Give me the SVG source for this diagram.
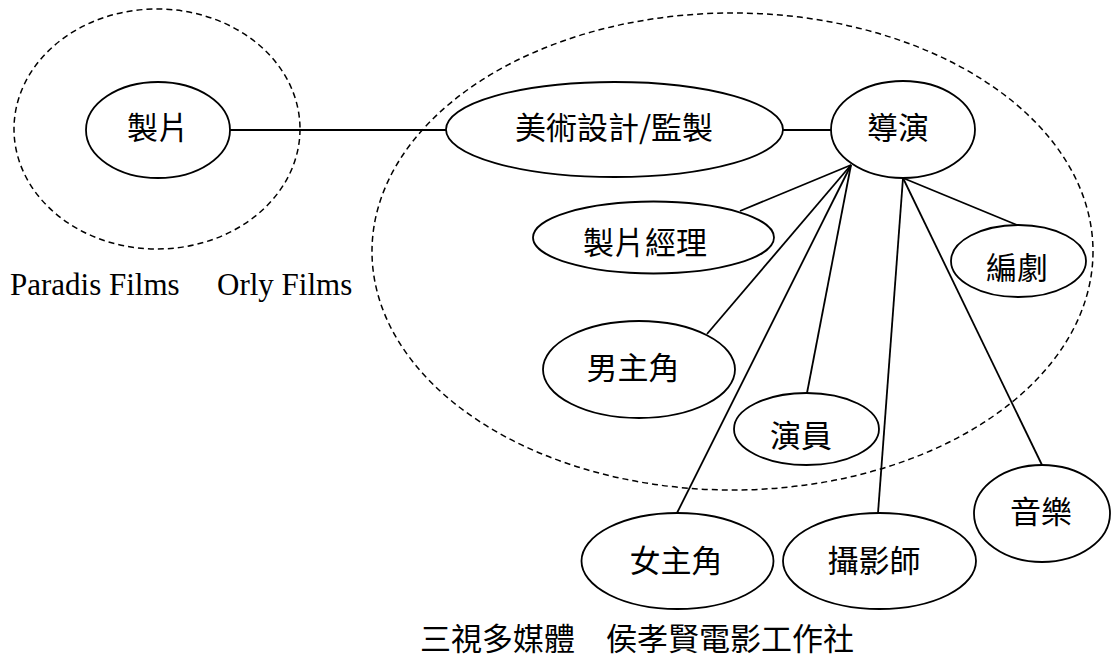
<svg xmlns="http://www.w3.org/2000/svg" width="1111" height="659" viewBox="0 0 1111 659">
<style>
.bg{fill:#fff}
.grp{fill:none;stroke:#000;stroke-width:1.5;stroke-dasharray:6 4}
.node{fill:#fff;stroke:#000;stroke-width:1.8}
.edge{stroke:#000;stroke-width:1.8;fill:none}
.lbl{font-family:"Noto Sans CJK TC","Noto Sans CJK SC",sans-serif;font-size:31px;fill:#000;text-anchor:middle}
.cap{font-family:"Liberation Serif",serif;font-size:31px;fill:#000}
.cjk{font-family:"Noto Sans CJK TC","Noto Sans CJK SC",sans-serif;font-size:31px;fill:#000}
</style>
<rect class="bg" x="0" y="0" width="1111" height="659"/>
<g id="groups">
<ellipse class="grp" cx="157" cy="129" rx="143" ry="120"/>
<ellipse class="grp" cx="732.5" cy="251.5" rx="360.5" ry="238.5"/>
</g>
<g id="connectors">
<line class="edge" x1="230" y1="130" x2="446" y2="130"/>
<line class="edge" x1="783" y1="130" x2="831" y2="130"/>
<line class="edge" x1="851" y1="165" x2="740" y2="211"/>
<line class="edge" x1="851" y1="165" x2="707" y2="334"/>
<line class="edge" x1="851" y1="165" x2="677" y2="513"/>
<line class="edge" x1="851" y1="165" x2="807" y2="393"/>
<line class="edge" x1="903" y1="178" x2="878" y2="513"/>
<line class="edge" x1="903" y1="178" x2="1017" y2="225"/>
<line class="edge" x1="903" y1="178" x2="1042" y2="465"/>
</g>
<g id="n-producer"><ellipse class="node" cx="158" cy="130" rx="72" ry="48"/><text class="lbl" x="158" y="139">製片</text></g>
<g id="n-art"><ellipse class="node" cx="614.5" cy="129.5" rx="168.5" ry="47.5"/><text class="lbl" x="614" y="139">美術設計/監製</text></g>
<g id="n-director"><ellipse class="node" cx="903" cy="129.5" rx="72" ry="48.5"/><text class="lbl" x="898" y="139">導演</text></g>
<g id="n-manager"><ellipse class="node" cx="653.5" cy="237.5" rx="120.5" ry="36"/><text class="lbl" x="645" y="254">製片經理</text></g>
<g id="n-writer"><ellipse class="node" cx="1018.5" cy="261" rx="67.5" ry="36"/><text class="lbl" x="1017" y="279">編劇</text></g>
<g id="n-actor"><ellipse class="node" cx="639" cy="369.5" rx="96" ry="48.5"/><text class="lbl" x="633" y="379">男主角</text></g>
<g id="n-cast"><ellipse class="node" cx="806.5" cy="429" rx="72.5" ry="36"/><text class="lbl" x="801" y="447">演員</text></g>
<g id="n-actress"><ellipse class="node" cx="677.5" cy="561" rx="96" ry="48"/><text class="lbl" x="676" y="572">女主角</text></g>
<g id="n-camera"><ellipse class="node" cx="879.5" cy="561" rx="96.5" ry="48"/><text class="lbl" x="874" y="572">攝影師</text></g>
<g id="n-music"><ellipse class="node" cx="1042" cy="513.5" rx="68" ry="48.5"/><text class="lbl" x="1041" y="523">音樂</text></g>
<g id="captions">
<text class="cap" x="10" y="295">Paradis Films</text>
<text class="cap" x="217" y="295">Orly Films</text>
<text class="cjk" x="420" y="650">三視多媒體　侯孝賢電影工作社</text>
</g>
</svg>
